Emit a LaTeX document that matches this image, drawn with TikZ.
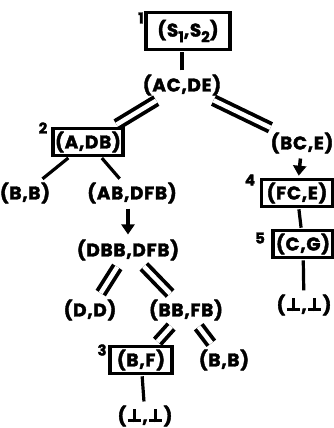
\documentclass[tikz,border=0pt]{standalone}
\usepackage{fontspec}
\setmainfont{Poppins}
\usetikzlibrary{arrows.meta}
\newcommand{\bott}{\hbox{\kern1.5bp\rlap{\rule{13bp}{3bp}}\kern5bp\rule{3bp}{13.5bp}\kern6.5bp}}
\newcommand{\idx}[1]{\raisebox{-0.55ex}{\fontsize{15}{15}\selectfont #1}}
\tikzset{
  term/.style={font=\bfseries\addfontfeatures{FakeBold=2,LetterSpace=4}\fontsize{18.5}{18.5}\selectfont, inner sep=3bp},
  marked/.style={term, draw, line width=3.6bp, inner sep=2bp, minimum height=27bp},
  num/.style={font=\bfseries\addfontfeatures{FakeBold=2}\fontsize{15}{15}\selectfont, inner sep=0pt},
  single/.style={line width=3.2bp, shorten <=1bp, shorten >=1bp},
  twin/.style={line width=3.8bp, double, double distance=4.5bp, shorten <=4bp, shorten >=4bp},
  pushdown/.style={line width=3.5bp, -{Triangle[width=13bp,length=10bp]}, shorten <=2bp, shorten >=2bp}
}
\begin{document}
\begin{tikzpicture}[x=1bp,y=-1bp]
\useasboundingbox (0,0) rectangle (334,428);
\node[marked, minimum width=84bp, minimum height=37bp] (s12) at (188,31) {(S\idx{1},S\idx{2})};
\node[num] (n1) at (141,18) {1};
\node[term] (acde) at (182,85) {(AC,DE)};
\node[marked, minimum width=69bp] (adb) at (88,142) {(A,DB)};
\node[num] (n2) at (43,128) {2};
\node[term] (bce) at (302,143) {(BC,E)};
\node[term] (bbl) at (25,193) {(B,B)};
\node[term] (abdfb) at (132,193) {(AB,DFB)};
\node[marked, minimum width=71bp] (fce) at (297,193) {(FC,E)};
\node[num] (n4) at (250,180) {4};
\node[term] (dbbdfb) at (128,250) {(DBB,DFB)};
\node[marked, minimum width=60bp] (cg) at (303,244) {(C,G)};
\node[num] (n5) at (260,238) {5};
\node[term] (dd) at (90,310) {(D,D)};
\node[term] (bbfb) at (186,310) {(BB,FB)};
\node[term] (botr) at (304,305) {(\bott,\bott)};
\node[marked, minimum width=62bp] (bf) at (141,360) {(B,F)};
\node[num] (n3) at (102,350) {3};
\node[term] (bbr) at (224,360) {(B,B)};
\node[term] (botl) at (145,416) {(\bott,\bott)};
\draw[single] (acde.north) -- (acde.north |- s12.south);
\draw[twin] (acde) -- (adb);
\draw[twin] (acde) -- (bce);
\draw[single] (adb) -- (bbl);
\draw[single] (adb) -- (abdfb);
\draw[pushdown] (abdfb.south -| dbbdfb) -- (dbbdfb);
\draw[twin] (dbbdfb) -- (dd);
\draw[twin] (dbbdfb) -- (bbfb);
\draw[twin] (bbfb) -- (bf);
\draw[twin] (bbfb) -- (bbr);
\draw[single] (bf) -- (botl);
\draw[pushdown] (bce) -- (fce);
\draw[single] (fce) -- (cg);
\draw[single] (cg) -- (botr);
\end{tikzpicture}
\end{document}
